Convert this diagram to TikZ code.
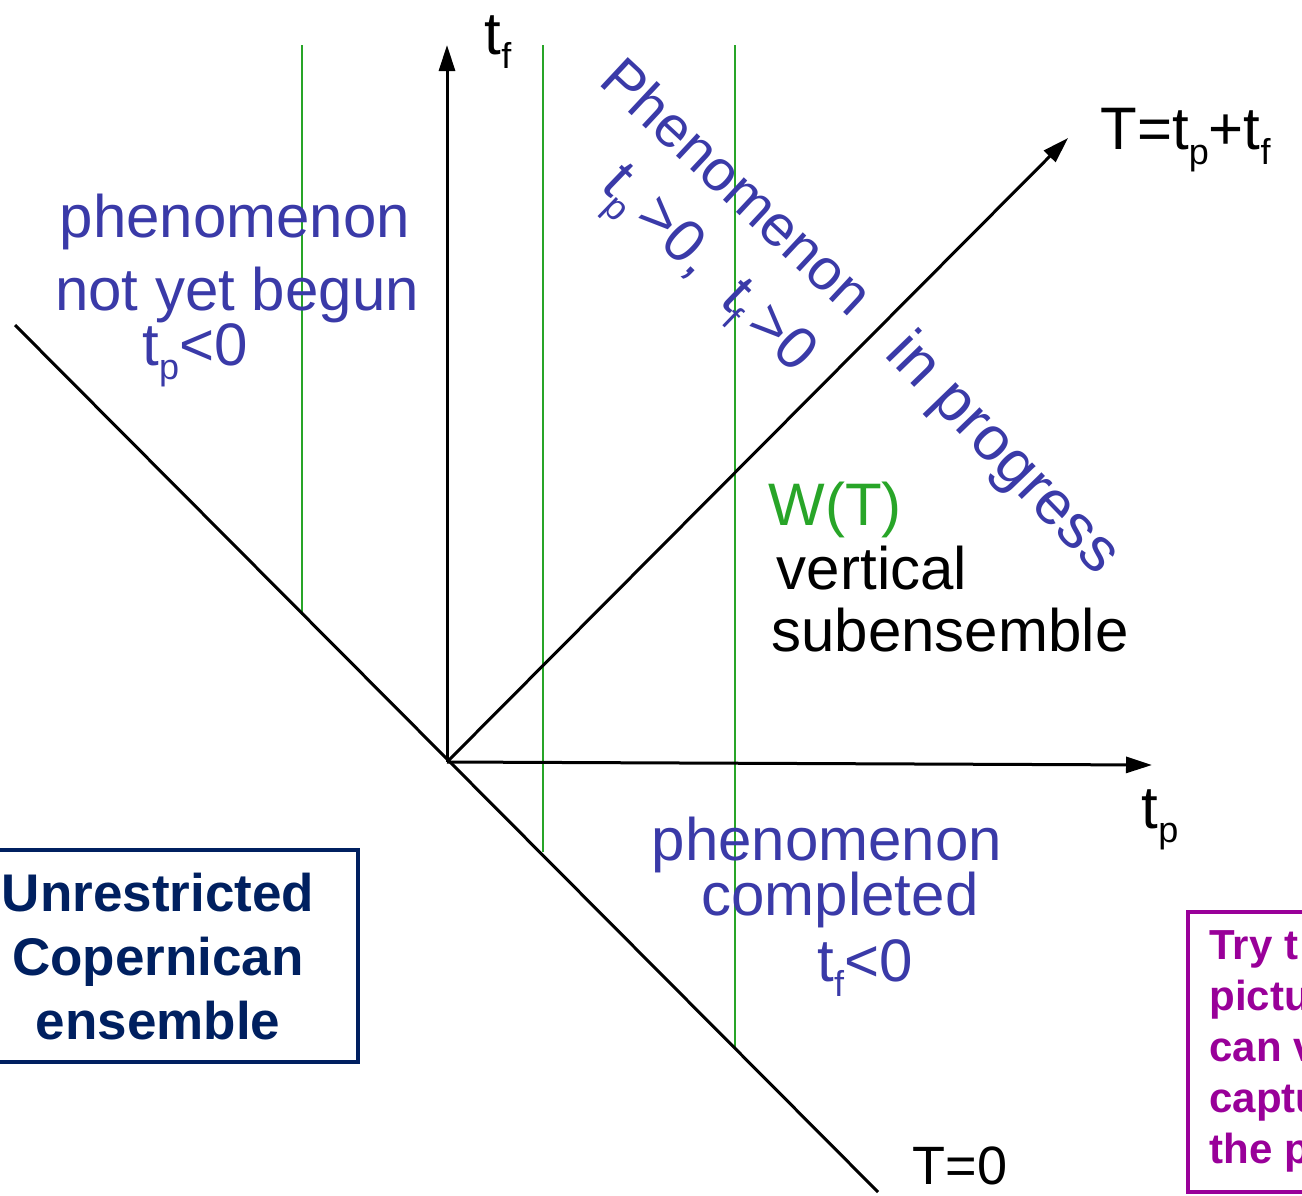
\documentclass[tikz,border=0pt]{standalone}
\usepackage{fontspec}
\setmainfont{Liberation Sans}
\usetikzlibrary{arrows.meta}
\definecolor{hblue}{RGB}{58,58,168}
\definecolor{hgreen}{RGB}{40,165,40}
\definecolor{navy}{RGB}{0,32,96}
\definecolor{purp}{RGB}{153,0,153}
\newcommand\hsb[1]{\raisebox{-0.45ex}{\scalebox{0.6}{#1}}}
\begin{document}
\begin{tikzpicture}[x=0.5pt,y=-0.5pt,
  axis/.style={line width=1.5pt,-{Triangle[length=13pt,width=8pt]}},
  plainline/.style={line width=1.5pt},
  gline/.style={hgreen,line width=1pt},
  hand/.style={hblue,font=\fontsize{30}{36}\selectfont,inner sep=0pt},
  handk/.style={black,font=\fontsize{30}{36}\selectfont,inner sep=0pt},
  handg/.style={hgreen,font=\fontsize{30}{36}\selectfont,inner sep=0pt},
  bigbox/.style={draw=navy,line width=2.4pt},
  bigtext/.style={text=navy,font=\bfseries\fontsize{26.5}{32}\selectfont,align=center,inner sep=0pt},
  tipbox/.style={draw=purp,line width=2.4pt},
  tiptext/.style={text=purp,font=\bfseries\fontsize{21}{25.5}\selectfont,align=left,inner sep=0pt}]
\useasboundingbox (0,0) rectangle (1302,1195);
% coordinates
\coordinate (O) at (447,762);
\coordinate (TfTip) at (447,45);
\coordinate (TpTip) at (1152,765);
\coordinate (TTip) at (1068,138);
\coordinate (Z1) at (15,325);
\coordinate (Z2) at (878,1192);
\coordinate (G1t) at (302,45);  \coordinate (G1b) at (302,615);
\coordinate (G2t) at (543,45);  \coordinate (G2b) at (543,852);
\coordinate (G3t) at (735,45);  \coordinate (G3b) at (735,1047);
% green vertical subensembles
\draw[gline] (G1t) -- (G1b);
\draw[gline] (G2t) -- (G2b);
\draw[gline] (G3t) -- (G3b);
% axes
\draw[plainline] (Z1) -- (Z2);
\draw[axis] (O) -- (TfTip);
\draw[axis] (O) -- (TpTip);
\draw[axis] (O) -- (TTip);
% axis labels
\node[handk] (tf) at (498,42) {t\hsb{f}};
\node[handk] (tp) at (1160,820) {t\hsb{p}};
\node[handk,anchor=west] (Tsum) at (1100,140) {T=t\hsb{p}+t\hsb{f}};
\node[handk,font=\fontsize{27}{32}\selectfont] (T0) at (960,1166) {T=0};
% region: not yet begun
\node[hand] (nyb1) at (235,222) {phenomenon};
\node[hand] (nyb2) at (237,295) {not yet begun};
\node[hand] (nyb3) at (195,355) {t\hsb{p}<0};
% region: in progress
\node[hand,rotate=-43,font=\fontsize{29}{34}\selectfont] (ip1) at (738,186) {Phenomenon};
\node[hand,rotate=-46,font=\fontsize{31}{36}\selectfont] (ip2) at (1002,455) {in progress};
\node[hand,rotate=-44,font=\fontsize{30}{36}\selectfont] (ip3) at (704,274) {t\hsb{p}\,>0,\; t\hsb{f}\,>0};
% vertical subensemble
\node[handg] (wt) at (835,510) {W(T)};
\node[handk] (vs1) at (872,568) {vertical};
\node[handk] (vs2) at (950,630) {subensemble};
% region: completed
\node[hand] (pc1) at (827,845) {phenomenon};
\node[hand] (pc2) at (840,900) {completed};
\node[hand] (pc3) at (865,968) {t\hsb{f}<0};
% boxes
\draw[bigbox] (-4,850) rectangle (358,1062);
\node[bigtext] (ucb) at (158,957) {Unrestricted\\Copernican\\ensemble};
\draw[tipbox] (1188,912) rectangle (1330,1192);
\node[tiptext,anchor=north west] (tip) at (1209,930) {Try t\\pictu\\can v\\captu\\the p};
\end{tikzpicture}
\end{document}
